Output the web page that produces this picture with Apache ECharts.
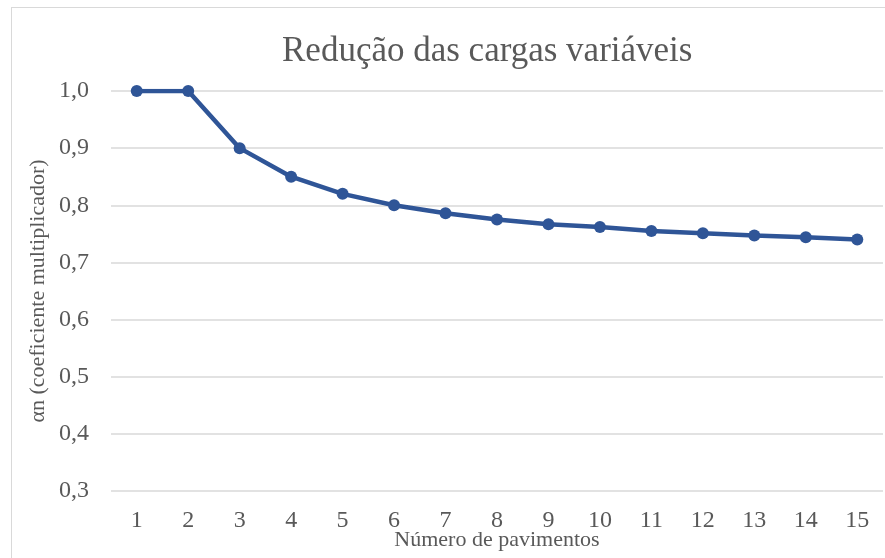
<!DOCTYPE html>
<html>
<head>
<meta charset="utf-8">
<script src="https://cdn.jsdelivr.net/npm/echarts@6/dist/echarts.min.js"></script>
<style>
  html, body { margin: 0; padding: 0; background: #fff; }
  #chart { width: 885px; height: 558px; }
  #frame { position: absolute; left: 11px; top: 7px; width: 890px; height: 560px; border: 1px solid #d9d9d9; pointer-events: none; }
</style>
</head>
<body>
<div id="chart"></div>
<div id="frame"></div>
<script>
  // dados
  const pavimentos = ['1', '2', '3', '4', '5', '6', '7', '8', '9', '10', '11', '12', '13', '14', '15']
  const alphaN = [1.0, 1.0, 0.9, 0.85, 0.82, 0.8, 0.786, 0.775, 0.767, 0.762, 0.755, 0.751, 0.747, 0.744, 0.74]

  const chart = echarts.init(document.getElementById('chart'))
  const serif = '"Liberation Serif", "DejaVu Serif", serif'

  const option = {
    animation: false,
    title: {
      text: 'Redução das cargas variáveis',
      left: 277,
      top: 29,
      textStyle: { fontFamily: serif, fontSize: 35, fontWeight: 'normal', color: '#595959' }
    },
    grid: { left: 111, right: 2, top: 91, bottom: 67, outerBoundsMode: 'none' },
    xAxis: {
      type: 'category',
      data: pavimentos,
      name: 'Número de pavimentos',
      nameLocation: 'middle',
      nameGap: 38,
      nameMoveOverlap: false,
      nameTextStyle: { fontFamily: serif, fontSize: 22, color: '#595959' },
      axisLine: { show: false },
      axisTick: { show: false },
      axisLabel: { fontFamily: serif, fontSize: 24, color: '#595959', margin: 18 }
    },
    yAxis: {
      type: 'value',
      min: 0.3,
      max: 1.0,
      interval: 0.1,
      name: 'αn (coeficiente multiplicador)',
      nameLocation: 'middle',
      nameGap: 62,
      nameMoveOverlap: false,
      nameTextStyle: { fontFamily: serif, fontSize: 22, color: '#595959' },
      axisLine: { show: false },
      axisTick: { show: false },
      splitLine: { lineStyle: { color: '#d9d9d9', width: 1.5 } },
      axisLabel: {
        fontFamily: serif, fontSize: 24, color: '#595959', margin: 22,
        formatter: v => v.toFixed(1).replace('.', ',')
      }
    },
    series: [{
      type: 'line',
      data: alphaN,
      symbol: 'circle',
      symbolSize: 12,
      lineStyle: { color: '#2f5597', width: 4.5 },
      itemStyle: { color: '#2f5597' }
    }]
  }

  chart.setOption(option)
</script>
</body>
</html>
